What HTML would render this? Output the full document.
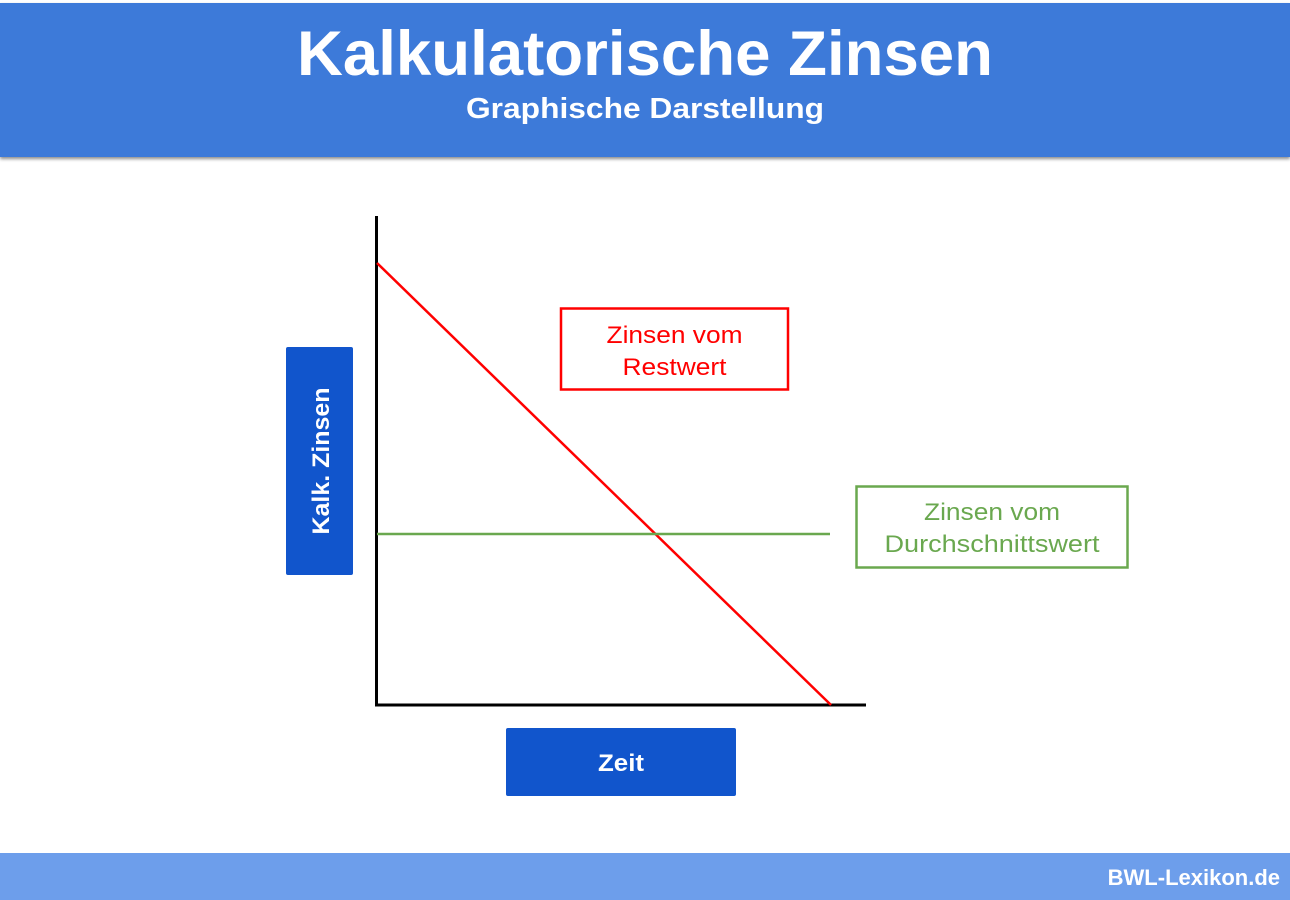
<!DOCTYPE html>
<html><head><meta charset="utf-8"><style>
body{margin:0;width:1290px;height:900px;background:#fff;overflow:hidden;font-family:"Liberation Sans",sans-serif}
</style></head><body>
<svg width="1290" height="900" xmlns="http://www.w3.org/2000/svg" style="position:absolute;left:0;top:0">
<defs><filter id="s" x="-5%" y="-10%" width="110%" height="130%"><feDropShadow dx="0" dy="2" stdDeviation="1.5" flood-color="#000" flood-opacity="0.45"/></filter></defs>
<rect x="0" y="3" width="1290" height="154" fill="#3c7ad9" filter="url(#s)"/>
<text x="645" y="75" text-anchor="middle" font-family="Liberation Sans" font-weight="bold" font-size="63" fill="#fff" textLength="696" lengthAdjust="spacingAndGlyphs">Kalkulatorische Zinsen</text>
<text x="645" y="118" text-anchor="middle" font-family="Liberation Sans" font-weight="bold" font-size="29" fill="#fff" textLength="358" lengthAdjust="spacingAndGlyphs">Graphische Darstellung</text>
<rect x="0" y="853" width="1290" height="47" fill="#6d9eeb"/>
<text x="1280" y="885" text-anchor="end" font-family="Liberation Sans" font-weight="bold" font-size="22" fill="#fff">BWL-Lexikon.de</text>
<line x1="376.5" y1="216" x2="376.5" y2="706" stroke="#000" stroke-width="3"/>
<line x1="375" y1="705" x2="866" y2="705" stroke="#000" stroke-width="3"/>
<line x1="377" y1="263" x2="831" y2="705" stroke="#f00" stroke-width="2.5"/>
<line x1="377" y1="534" x2="830" y2="534" stroke="#6aa84f" stroke-width="2.5"/>
<rect x="561" y="308.5" width="227" height="81" fill="#fff" stroke="#f00" stroke-width="2.5"/>
<text x="674.5" y="343" text-anchor="middle" font-size="24" fill="#f00" textLength="136" lengthAdjust="spacingAndGlyphs">Zinsen vom</text>
<text x="674.5" y="375" text-anchor="middle" font-size="24" fill="#f00" textLength="104" lengthAdjust="spacingAndGlyphs">Restwert</text>
<rect x="856.5" y="486.5" width="271" height="81" fill="#fff" stroke="#6aa84f" stroke-width="2.5"/>
<text x="992" y="520" text-anchor="middle" font-size="24" fill="#6aa84f" textLength="136" lengthAdjust="spacingAndGlyphs">Zinsen vom</text>
<text x="992" y="552" text-anchor="middle" font-size="24" fill="#6aa84f" textLength="215" lengthAdjust="spacingAndGlyphs">Durchschnittswert</text>
<rect x="286" y="347" width="67" height="228" rx="2" fill="#1155cc"/>
<text transform="translate(329,461) rotate(-90)" text-anchor="middle" font-weight="bold" font-size="24" fill="#fff" textLength="147" lengthAdjust="spacingAndGlyphs">Kalk. Zinsen</text>
<rect x="506" y="728" width="230" height="68" rx="2" fill="#1155cc"/>
<text x="621" y="771" text-anchor="middle" font-weight="bold" font-size="24" fill="#fff" textLength="46" lengthAdjust="spacingAndGlyphs">Zeit</text>
</svg>
</body></html>
